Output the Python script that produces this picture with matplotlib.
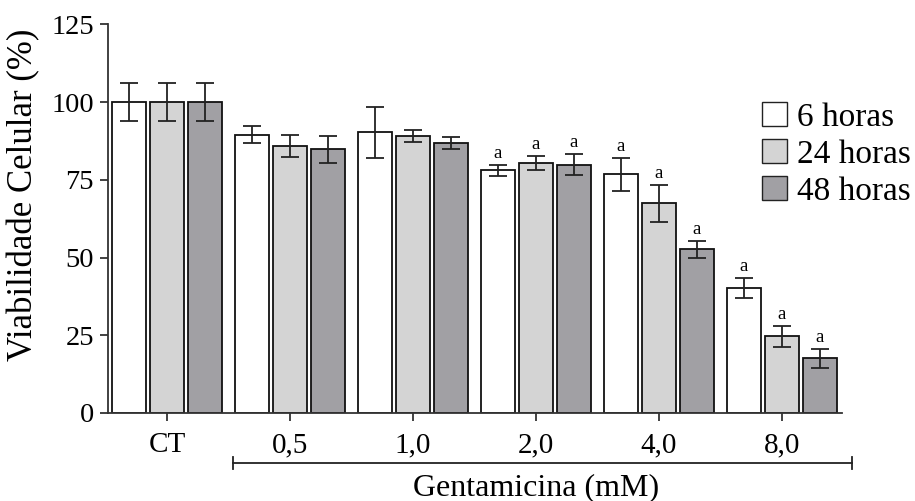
import matplotlib
matplotlib.use("Agg")
import matplotlib.pyplot as plt
import numpy as np
from matplotlib.patches import Patch

plt.rcParams['font.family'] = ['Liberation Serif', 'DejaVu Serif']

categories = ["CT", "0,5", "1,0", "2,0", "4,0", "8,0"]
series_names = ["6 horas", "24 horas", "48 horas"]
means_6h = [100.0, 89.5, 90.2, 78.0, 76.7, 40.3]
sd_6h = [6.2, 2.7, 8.2, 1.8, 5.4, 3.2]
means_24h = [100.0, 85.9, 89.0, 80.4, 67.4, 24.6]
sd_24h = [6.2, 3.5, 2.0, 2.2, 5.9, 3.4]
means_48h = [100.0, 84.8, 86.9, 79.8, 52.7, 17.6]
sd_48h = [6.2, 4.4, 2.0, 3.4, 2.7, 3.1]
sig_6h = [False, False, False, True, True, True]
sig_24h = [False, False, False, True, True, True]
sig_48h = [False, False, False, True, True, True]
colors = ["#ffffff", "#d4d4d4", "#a1a0a4"]
yticks = [0, 25, 50, 75, 100, 125]
xlabel = "Gentamicina (mM)"
ylabel = "Viabilidade Celular (%)"

fig = plt.figure(figsize=(9.15, 5.01), dpi=100)
ax = fig.add_axes([108/915, 1-413/501, (842-108)/915, (413-24.25)/501])

x = np.arange(len(categories))
width = 0.276
offset = 0.309
all_means = [means_6h, means_24h, means_48h]
all_sd = [sd_6h, sd_24h, sd_48h]
all_sig = [sig_6h, sig_24h, sig_48h]
for i, (m, s, sg, c) in enumerate(zip(all_means, all_sd, all_sig, colors)):
    xi = x + (i - 1) * offset
    ax.bar(xi, m, width=width, color=c, edgecolor="#111111", linewidth=1.3, zorder=2)
    ax.errorbar(xi, m, yerr=s, fmt="none", ecolor="#222222", elinewidth=1.3,
                capsize=6.5, capthick=1.3, zorder=3)
    for xx, mm, ss, flag in zip(xi, m, s, sg):
        if flag:
            ax.annotate("a", (xx, mm + ss), xytext=(0, 2), textcoords="offset points",
                        ha="center", va="bottom", fontsize=13.5)

ax.set_xlim(-0.48, 5.49)
ax.set_ylim(0, 125)
ax.set_yticks(yticks)
ax.set_yticklabels([str(t) for t in yticks])
ax.set_xticks(x)
ax.set_xticklabels(categories)
for sp in ["top", "right"]:
    ax.spines[sp].set_visible(False)
for sp in ["left", "bottom"]:
    ax.spines[sp].set_linewidth(1.3)
    ax.spines[sp].set_color("#333333")
ax.tick_params(axis="both", length=6, width=1.3, color="#333333", direction="out")
ax.tick_params(axis="x", pad=8, labelsize=21)
ax.tick_params(axis="y", pad=4, labelsize=20.5)
ax.set_ylabel(ylabel, fontsize=25, va="center")
ax.yaxis.set_label_coords((24 - 108) / 734, (413 - 195) / (413 - 24.25))

# bracket for Gentamicina
trans = matplotlib.transforms.blended_transform_factory(ax.transData, ax.transAxes)
x0 = (233 - 167) / 123
x1 = (852 - 167) / 123
yb = -0.1288
ax.plot([x0, x1], [yb, yb], color="#222222", lw=1.3, transform=trans, clip_on=False)
for xe in (x0, x1):
    ax.plot([xe, xe], [yb - 0.016, yb + 0.016], color="#222222", lw=1.3, transform=trans, clip_on=False)
ax.text((536 - 167) / 123, -0.193, xlabel, transform=trans, ha="center", va="center", fontsize=23)

handles = [Patch(facecolor=c, edgecolor="#222222", linewidth=1.0) for c in colors]
fig.legend(handles, series_names, loc="upper left", bbox_to_anchor=(762/915, 1-102/501),
           frameon=False, fontsize=24, handlelength=0.75, handleheight=0.75,
           handletextpad=0.3, labelspacing=0.18, borderpad=0, borderaxespad=0)

fig.savefig("out.png", dpi=100)
